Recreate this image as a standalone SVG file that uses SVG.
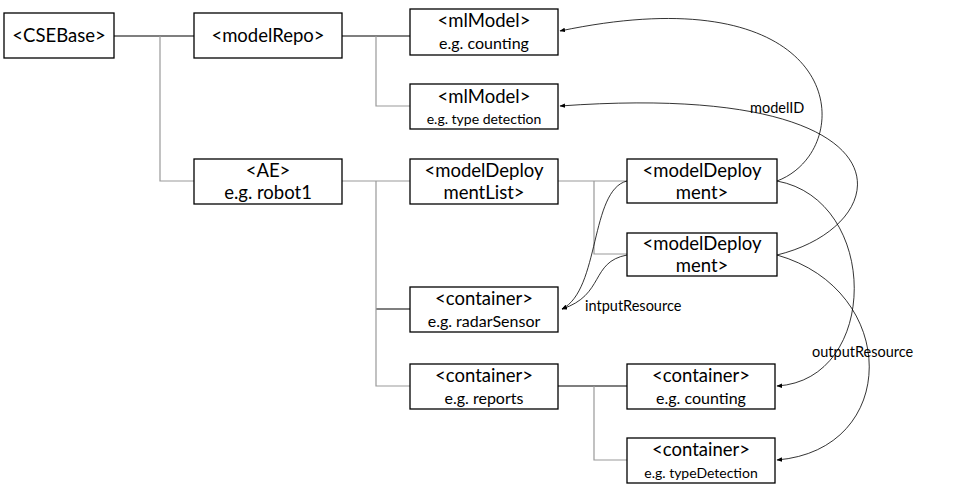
<svg xmlns="http://www.w3.org/2000/svg" width="964" height="494" viewBox="0 0 964 494">
<defs>
<style>
.n rect{fill:#fff;stroke:#000;stroke-width:1.3}
text{font-family:Lato,"Liberation Sans",sans-serif;fill:#000;text-anchor:middle}
.t{font-size:18.5px}.s{font-size:16px}.l{font-size:14.5px;text-anchor:start}
.tree{stroke:#999;stroke-width:1.2;fill:none}
.c{stroke:#000;stroke-width:0.8;fill:none;marker-end:url(#a)}
</style>
<marker id="a" viewBox="0 0 10 10" refX="9" refY="5" markerWidth="7" markerHeight="7" orient="auto"><path d="M0,1 L10,5 L0,9z" fill="#000"/></marker>
</defs>
<g id="connectors">
<path class="tree" d="M114,36H194M342,36H410M558,386H627M376,309H410" style="stroke:#000"/>
<path class="tree" d="M160,36V181H194M376,36V106H410M342,181H410M376,181V386H410M558,181H627M594,181V254H627M594,386V460H627"/>
<path class="c" d="M777,181 C860,150 850,-30 560,31"/>
<path class="c" d="M777,255 C900,225 920,80 560,106"/>
<path class="c" d="M777,181 C880,200 880,380 777,386"/>
<path class="c" d="M777,255 C900,290 900,450 777,460"/>
<path class="c" d="M627,181 C590,190 600,290 562,309"/>
<path class="c" d="M627,255 C590,262 605,295 562,309"/>
<text class="l" x="750" y="113">modelID</text>
<text class="l" x="585" y="311">intputResource</text>
<text class="l" x="812" y="357">outputResource</text>
</g>
<g id="cse" class="n"><rect x="4" y="13" width="110" height="45"/><text class="t" x="59" y="42">&lt;CSEBase&gt;</text></g>
<g id="repo" class="n"><rect x="194" y="13" width="148" height="45"/><text class="t" x="268" y="42">&lt;modelRepo&gt;</text></g>
<g id="ml1" class="n"><rect x="410" y="9" width="148" height="46"/><text class="t" x="484" y="27">&lt;mlModel&gt;</text><text class="s" x="484" y="49">e.g. counting</text></g>
<g id="ml2" class="n"><rect x="410" y="84" width="148" height="45"/><text class="t" x="484" y="103">&lt;mlModel&gt;</text><text class="s" x="484" y="124" style="font-size:14px">e.g. type detection</text></g>
<g id="ae" class="n"><rect x="194" y="159" width="148" height="45"/><text class="t" x="268" y="177">&lt;AE&gt;</text><text class="t" x="268" y="199">e.g. robot1</text></g>
<g id="mdl" class="n"><rect x="410" y="159" width="148" height="45"/><text class="t" x="484" y="177">&lt;modelDeploy</text><text class="t" x="484" y="199">mentList&gt;</text></g>
<g id="md1" class="n"><rect x="627" y="159" width="150" height="44"/><text class="t" x="702" y="177">&lt;modelDeploy</text><text class="t" x="702" y="199">ment&gt;</text></g>
<g id="md2" class="n"><rect x="627" y="233" width="150" height="43"/><text class="t" x="702" y="250">&lt;modelDeploy</text><text class="t" x="702" y="272">ment&gt;</text></g>
<g id="radar" class="n"><rect x="410" y="287" width="148" height="45"/><text class="t" x="484" y="305">&lt;container&gt;</text><text class="s" x="484" y="327">e.g. radarSensor</text></g>
<g id="reports" class="n"><rect x="410" y="364" width="148" height="45"/><text class="t" x="484" y="382">&lt;container&gt;</text><text class="s" x="484" y="404">e.g. reports</text></g>
<g id="counting" class="n"><rect x="627" y="364" width="148" height="45"/><text class="t" x="701" y="382">&lt;container&gt;</text><text class="s" x="701" y="404">e.g. counting</text></g>
<g id="typedet" class="n"><rect x="627" y="438" width="148" height="45"/><text class="t" x="701" y="456">&lt;container&gt;</text><text class="s" x="701" y="478" style="font-size:14px">e.g. typeDetection</text></g>
</svg>
